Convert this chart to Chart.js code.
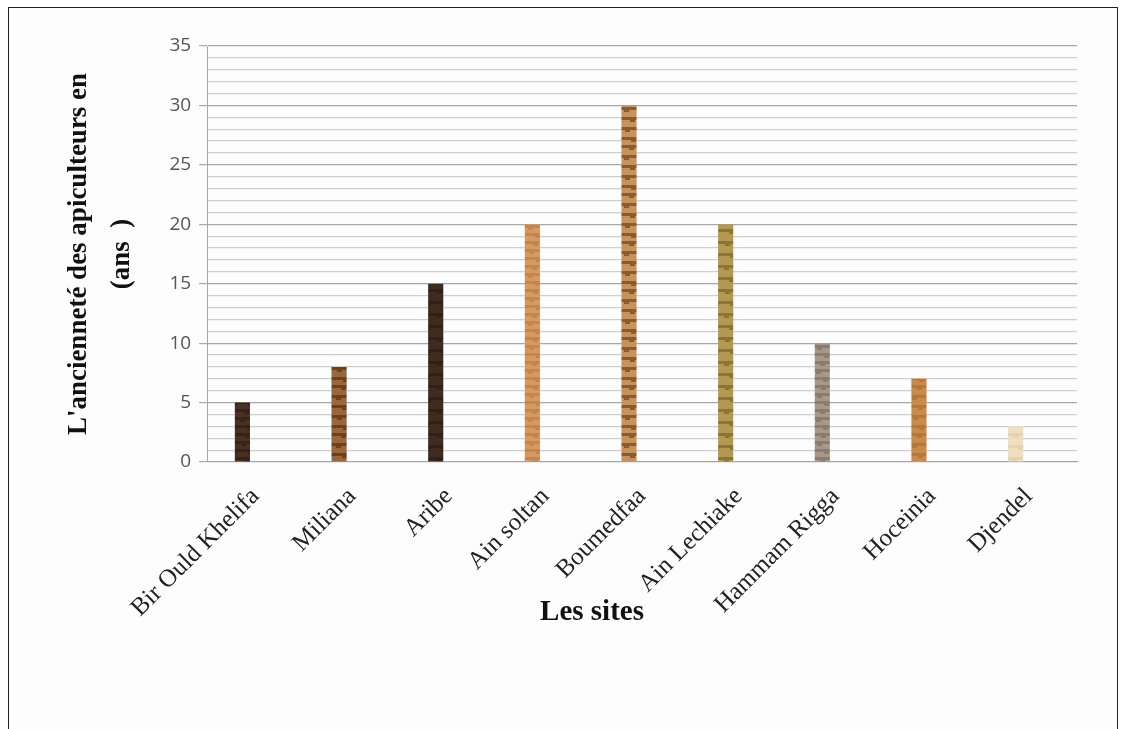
<!DOCTYPE html>
<html>
<head>
<meta charset="utf-8">
<script src="https://cdn.jsdelivr.net/npm/chart.js@4/dist/chart.umd.min.js"></script>
<style>
  html, body { margin: 0; padding: 0; background: #fff; }
  #frame { position: absolute; left: 8px; top: 7px; width: 1108px; height: 730px; border: 1px solid #222; border-bottom: none; background: #fdfdfd; }
  #wrap { position: absolute; left: 0; top: 0; width: 1125px; height: 729px; }
</style>
</head>
<body>
<div id="frame"></div>
<div id="wrap"><canvas id="chart" width="1125" height="729"></canvas></div>
<script>
// data
const sites = ['Bir Ould Khelifa', 'Miliana', 'Aribe', 'Ain soltan', 'Boumedfaa',
               'Ain Lechiake', 'Hammam Rigga', 'Hoceinia', 'Djendel'];
const years = [5, 8, 15, 20, 30, 20, 10, 7, 3];
// the original sheet has a second, empty series: it pushes the bars left of centre
const emptySeries = [null, null, null, null, null, null, null, null, null];
const xTitle = 'Les sites';

// base colour + streak colour of each textured bar
const baseColors = ['#4a3020', '#9a6838', '#3e2c1e', '#d49a62', '#c99258',
                    '#b59850', '#a8988a', '#c98a4a', '#efdfbf'];
const streakColors = ['#35231a', '#6a4220', '#30221a', '#c4864e', '#8a5a30',
                      '#8c7434', '#8c7c70', '#b57838', '#e6d2ae'];

// small texture so the bars look like the wood/stone fills of the original
function makeTexture(base, streak, i) {
    const c = document.createElement('canvas');
    c.width = 16; c.height = 48;
    const g = c.getContext('2d');
    g.fillStyle = base;
    g.fillRect(0, 0, 16, 48);
    g.fillStyle = streak;
    const step = (i % 3) * 2 + 8;
    for (let y = 1; y < 48; y += step) {
        g.fillRect(0, y, 16, 3);
        g.fillRect((y * 5) % 11, y + 3, 5, 2);
    }
    return g.createPattern(c, 'repeat');
}

// the x title sits left of the plot centre in the original, so draw it here
const xTitlePlugin = {
    id: 'xTitle',
    afterDraw(chart) {
        const c = chart.ctx;
        c.save();
        c.font = 'bold 29px "Liberation Serif"';
        c.fillStyle = '#111';
        c.textAlign = 'center';
        c.textBaseline = 'middle';
        c.fillText(xTitle, 592, 613);
        c.restore();
    }
};

const ctx = document.getElementById('chart').getContext('2d');
const fills = baseColors.map((b, i) => makeTexture(b, streakColors[i], i));

new Chart(ctx, {
    type: 'bar',
    data: {
        labels: sites,
        datasets: [{
            data: years,
            backgroundColor: fills,
            borderWidth: 0,
            categoryPercentage: 0.54,
            barPercentage: 0.58
        }, {
            data: emptySeries,
            backgroundColor: '#888',
            categoryPercentage: 0.54,
            barPercentage: 0.58
        }]
    },
    plugins: [xTitlePlugin],
    options: {
        responsive: false,
        animation: false,
        layout: { padding: { left: 53, right: 48, top: 46, bottom: 86 } },
        plugins: { legend: { display: false }, tooltip: { enabled: false } },
        scales: {
            x: {
                grid: { display: false, drawTicks: false },
                border: { color: '#a6a6a6' },
                ticks: {
                    color: '#222',
                    font: { family: 'Liberation Serif', size: 25 },
                    maxRotation: 45, minRotation: 45,
                    padding: 20
                }
            },
            y: {
                min: 0, max: 35,
                ticks: {
                    stepSize: 1,
                    autoSkip: false,
                    color: '#555',
                    font: { family: 'Open Sans', size: 19 },
                    padding: 8,
                    callback: v => (v % 5 === 0 ? v : '')
                },
                grid: {
                    color: c => (c.tick.value % 5 === 0 ? '#a8a8a8' : '#cfcfcf'),
                    lineWidth: 1.2,
                    tickLength: 8,
                    tickColor: c => (c.tick.value % 5 === 0 ? '#a8a8a8' : 'rgba(0,0,0,0)')
                },
                border: { color: '#a6a6a6' },
                title: {
                    display: true,
                    text: ["L'ancienneté des apiculteurs en", '(ans  )'],
                    color: '#111',
                    font: { family: 'Liberation Serif', size: 27, weight: 'bold', lineHeight: 1.6 },
                    padding: { bottom: 18 }
                }
            }
        }
    }
});
</script>
</body>
</html>
